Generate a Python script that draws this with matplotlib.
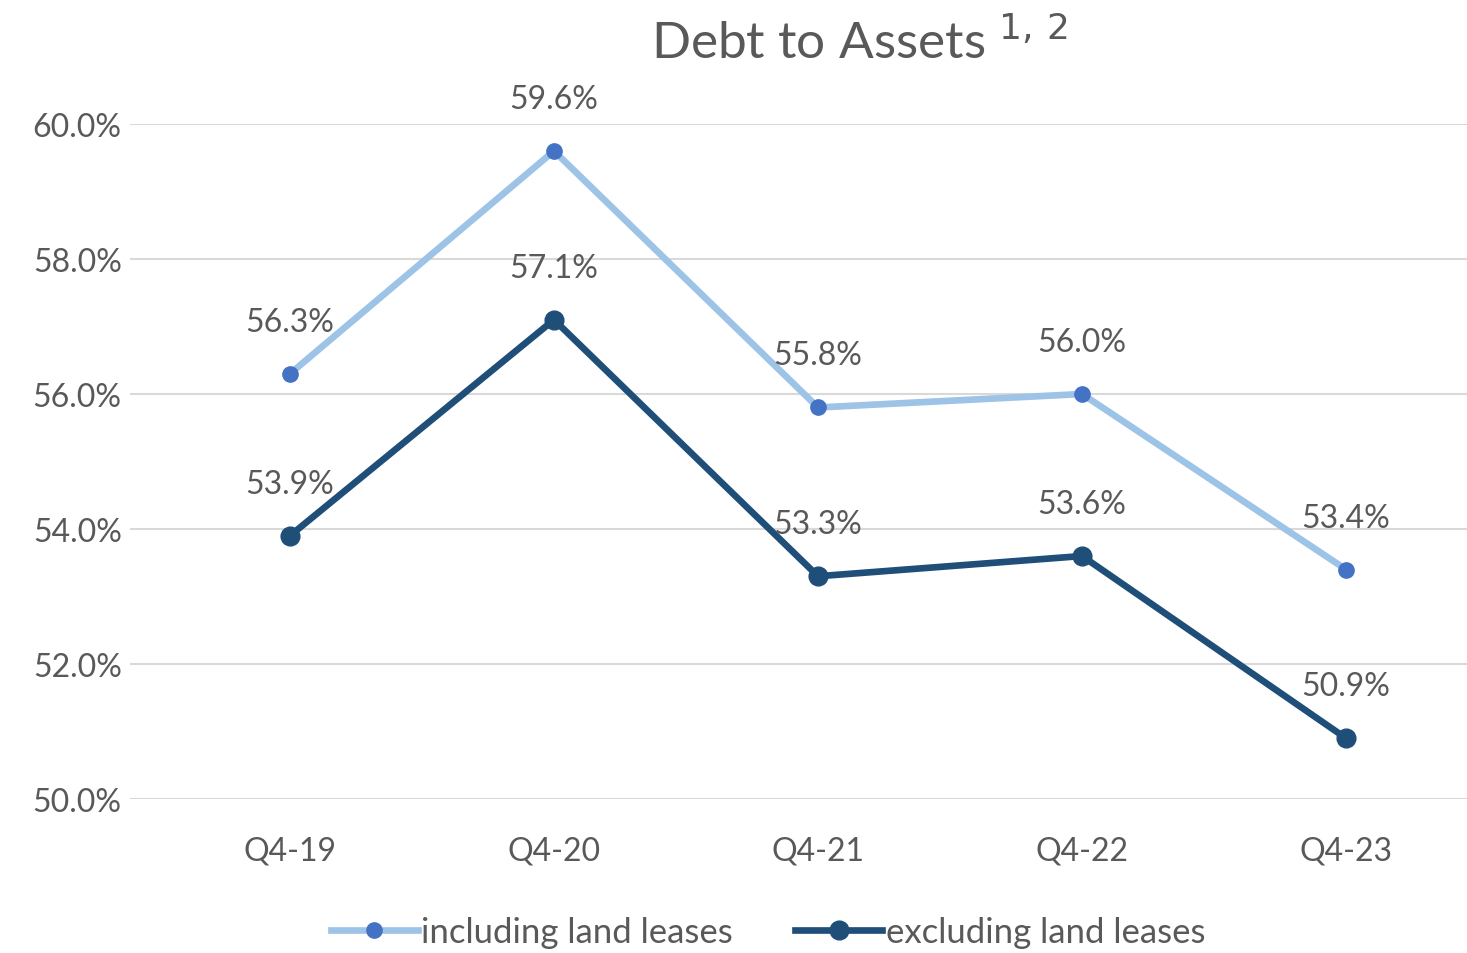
import matplotlib.pyplot as plt
from matplotlib.ticker import FuncFormatter

periodos = ['Q4-19', 'Q4-20', 'Q4-21', 'Q4-22', 'Q4-23']
incluindo = [56.3, 59.6, 55.8, 56.0, 53.4]
excluindo = [53.9, 57.1, 53.3, 53.6, 50.9]
marcas_y = [50, 52, 54, 56, 58, 60]

plt.rcParams['font.family'] = ['Lato', 'DejaVu Sans']
cinza = '#595959'

fig = plt.figure(figsize=(14.67, 9.54), dpi=100)
ax = fig.add_axes([0.0886, 0.1614, 0.9114, 0.7076])

x = list(range(len(periodos)))
ax.plot(x, incluindo, color='#9DC3E6', lw=4.8, marker='o', ms=11,
        mfc='#4472C4', mec='#4472C4', label='including land leases', zorder=3)
ax.plot(x, excluindo, color='#1F4E79', lw=4.8, marker='o', ms=13.5,
        mfc='#1F4E79', mec='#1F4E79', label='excluding land leases', zorder=3)

for serie in (incluindo, excluindo):
    for xi, v in zip(x, serie):
        ax.annotate(f'{v:.1f}%', (xi, v), xytext=(0, 52), textcoords='offset pixels',
                    ha='center', va='center', fontsize=23, color=cinza)

ax.set_ylim(50, 60)
ax.set_xlim(-0.606, 4.458)
ax.set_yticks(marcas_y)
ax.yaxis.set_major_formatter(FuncFormatter(lambda v, p: f'{v:.1f}%'))
ax.set_xticks(x)
ax.set_xticklabels(periodos)
ax.tick_params(axis='both', length=0, labelsize=23, labelcolor=cinza)
ax.tick_params(axis='x', pad=26)
ax.tick_params(axis='y', pad=6)
ax.grid(axis='y', color='#D9D9D9', lw=1.5)
ax.set_axisbelow(True)
for s in ax.spines.values():
    s.set_visible(False)

fig.text(0.586, 0.955, 'Debt to Assets $^{1,\\,2}$', ha='center', va='center',
         fontsize=37, color=cinza)

fig.legend(loc='center', bbox_to_anchor=(0.5235, 0.022), ncol=2, frameon=False,
           fontsize=25, labelcolor=cinza, handlelength=2.5, handletextpad=0.1,
           columnspacing=1.8)

fig.savefig('out.png', dpi=100)
